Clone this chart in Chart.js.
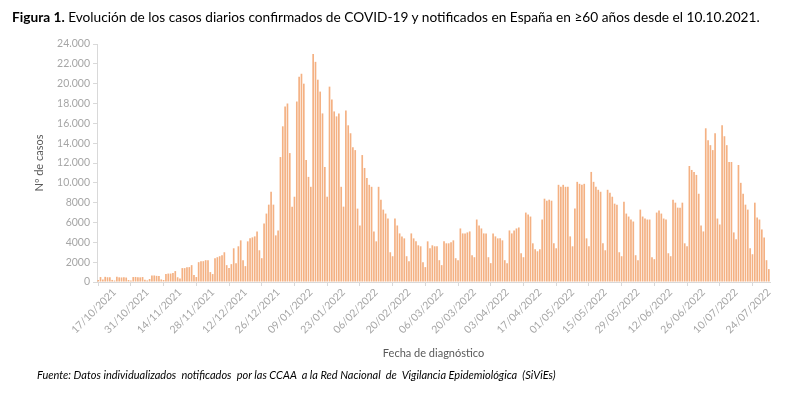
<!DOCTYPE html>
<html lang="es">
<head>
<meta charset="utf-8">
<title>Casos diarios COVID-19 en ≥60 años</title>
<script src="https://cdn.jsdelivr.net/npm/chart.js@4.4.0/dist/chart.umd.min.js"></script>
<style>
  html, body { margin: 0; padding: 0; background: #fff; }
  #wrap { position: relative; width: 800px; height: 398px; overflow: hidden; }
  #chart { position: absolute; left: 0; top: 0; }
  #titulo {
    position: absolute; left: 12px; top: 8px; white-space: nowrap;
    font-family: Lato, "Open Sans", sans-serif; font-size: 13.7px; color: #000;
  }
  #fuente {
    position: absolute; left: 37px; top: 368px; white-space: nowrap;
    font-family: Lato, "Open Sans", sans-serif; font-size: 11px; font-style: italic; color: #000;
  }
</style>
</head>
<body>
<div id="wrap">
  <canvas id="chart" width="800" height="398"></canvas>
  <div id="titulo"><b>Figura 1.</b> Evolución de los casos diarios confirmados de COVID-19 y notificados en España en ≥60 años desde el 10.10.2021.</div>
  <div id="fuente">Fuente: Datos individualizados&nbsp; notificados&nbsp; por las CCAA&nbsp; a la Red Nacional&nbsp; de&nbsp; Vigilancia Epidemiológica&nbsp; (SiViEs)</div>
</div>
<script>
// casos diarios por fecha de diagnóstico, desde el 10/10/2021
const oct2021 = [200, 500, 250, 520, 480, 470, 210, 150, 520, 470, 460, 470, 450, 200, 160, 500, 510, 490, 470, 500, 220, 160];
const nov2021 = [300, 650, 660, 620, 600, 260, 200, 800, 850, 850, 900, 1100, 480, 350, 1400, 1400, 1500, 1500, 1700, 700, 500, 2000, 2100, 2100, 2200, 2200, 1000, 800, 2400, 2500];
const dic2021 = [2600, 2700, 3000, 1700, 1400, 1800, 3400, 1900, 3600, 4200, 2200, 1600, 4100, 4400, 4500, 4600, 5100, 3200, 2400, 5900, 6900, 7800, 9100, 7800, 4700, 5200, 12600, 15700, 17700, 18000, 13000];
const ene2022 = [7600, 8600, 18200, 20700, 21000, 20000, 12300, 10600, 9600, 23000, 22200, 20400, 19200, 17000, 11600, 8600, 19700, 18400, 17200, 16700, 17000, 9600, 7600, 17300, 15800, 15000, 13600, 13300, 7400, 5700, 12800];
const feb2022 = [11500, 10500, 9800, 9600, 5100, 4100, 9600, 8300, 7300, 6900, 6400, 3000, 2600, 6400, 5700, 4900, 4600, 4400, 2600, 2100, 4900, 4400, 4100, 3700, 3600, 2000, 1500, 4100];
const mar2022 = [3400, 3700, 3600, 3600, 2200, 1700, 4100, 3900, 3900, 4000, 4200, 2400, 2200, 5400, 4900, 4900, 5000, 5100, 2700, 2500, 6300, 5700, 5400, 4900, 4900, 2500, 1900, 4900, 4600, 4400, 4400];
const abr2022 = [4200, 2200, 1900, 5200, 4900, 5200, 5400, 5500, 2900, 2500, 7000, 6800, 6600, 3900, 3300, 3100, 3300, 6300, 8400, 8200, 8300, 8200, 3900, 3400, 9800, 9600, 9800, 9600, 9600, 4600];
const may2022 = [3600, 7400, 10100, 9900, 9800, 9900, 4400, 3600, 11100, 10100, 9600, 9300, 9100, 3900, 3200, 9300, 9000, 8600, 7900, 7800, 3000, 2600, 8100, 6900, 6600, 6300, 6100, 2700, 2200, 7300, 6600];
const jun2022 = [6400, 6300, 6300, 2500, 2300, 7000, 7200, 6900, 6400, 6300, 2900, 2600, 8300, 8000, 7500, 7500, 8000, 3900, 3600, 11700, 11300, 11100, 10800, 8900, 5700, 5100, 15500, 14300, 13800, 13300];
const jul2022 = [15000, 6400, 5800, 15800, 14700, 13800, 12100, 12100, 5000, 4300, 11800, 10000, 8900, 7800, 7300, 3400, 2800, 8000, 6500, 6300, 5300, 4500, 2200, 1300];

const etiquetasX = ['17/10/2021', '31/10/2021', '14/11/2021', '28/11/2021', '12/12/2021', '26/12/2021',
  '09/01/2022', '23/01/2022', '06/02/2022', '20/02/2022', '06/03/2022', '20/03/2022', '03/04/2022',
  '17/04/2022', '01/05/2022', '15/05/2022', '29/05/2022', '12/06/2022', '26/06/2022', '10/07/2022', '24/07/2022'];

const casos = [].concat(oct2021, nov2021, dic2021, ene2022, feb2022, mar2022, abr2022, may2022, jun2022, jul2022);

// fechas dd/mm/aaaa, una por cada valor
const fechas = [];
for (let i = 0; i < casos.length; i++) {
  const d = new Date(2021, 9, 10 + i);
  const dd = String(d.getDate()).padStart(2, '0');
  const mm = String(d.getMonth() + 1).padStart(2, '0');
  fechas.push(`${dd}/${mm}/${d.getFullYear()}`);
}

const gris = '#a6a6a6';
const linea = '#d9d9d9';

new Chart(document.getElementById('chart'), {
  type: 'bar',
  data: {
    labels: fechas,
    datasets: [{
      data: casos,
      backgroundColor: '#F4B183',
      borderWidth: 0,
      barPercentage: 0.72,
      categoryPercentage: 1
    }]
  },
  options: {
    responsive: false,
    animation: false,
    layout: { padding: { left: 33, right: 30, top: 44, bottom: 38 } },
    plugins: { legend: { display: false }, tooltip: { enabled: false } },
    scales: {
      x: {
        afterFit: (scale) => { scale.height = 78; },
        grid: { display: true, drawOnChartArea: false, color: linea, tickLength: 4 },
        border: { color: linea },
        ticks: {
          autoSkip: false,
          maxRotation: 45,
          minRotation: 45,
          padding: 0,
          color: gris,
          font: { family: 'Lato', size: 10.5 },
          callback: function (v, i) {
            return etiquetasX.includes(fechas[i]) ? fechas[i] : null;
          }
        },
        title: {
          display: true,
          text: 'Fecha de diagnóstico',
          color: '#595959',
          font: { family: 'Lato', size: 11 },
          padding: { top: 0, bottom: 0 }
        }
      },
      y: {
        min: 0,
        max: 24000,
        afterFit: (scale) => { scale.width = 64; },
        grid: { display: true, drawOnChartArea: false, color: linea, tickLength: 4 },
        border: { color: linea },
        ticks: {
          stepSize: 2000,
          color: gris,
          font: { family: 'Lato', size: 10.5 },
          padding: 3,
          callback: (v) => v >= 10000 ? (v / 1000) + '.000' : String(v)
        },
        title: {
          display: true,
          text: 'Nº de casos',
          color: '#595959',
          font: { family: 'Lato', size: 11 },
          padding: { top: 0, bottom: 0 }
        }
      }
    }
  }
});
</script>
</body>
</html>
